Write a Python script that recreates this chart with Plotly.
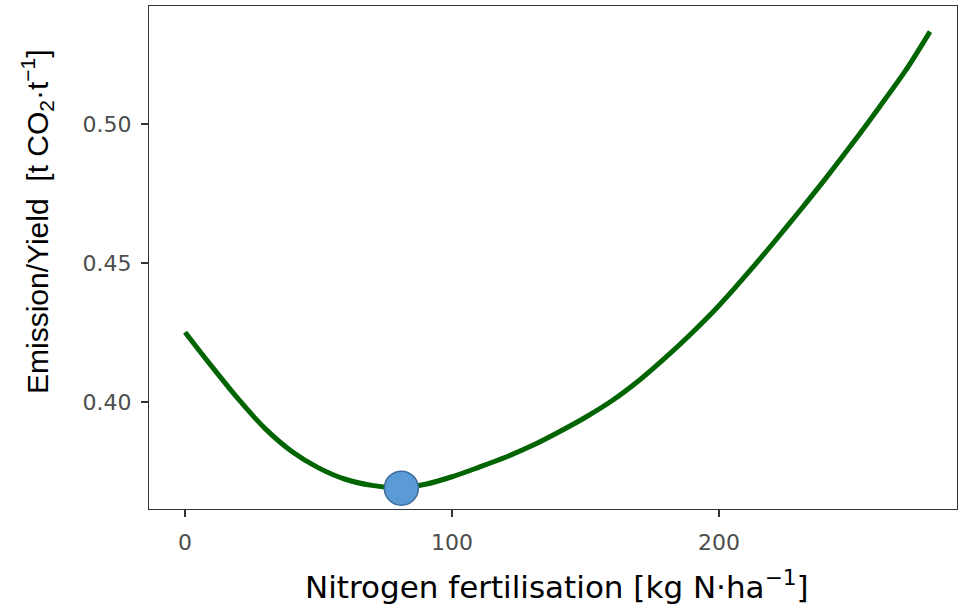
import plotly.graph_objects as go

# Data
n_rate = [0, 10, 20, 30, 40, 50, 60, 70, 80, 90, 100, 110, 120, 130, 140, 150,
          160, 170, 180, 190, 200, 210, 220, 230, 240, 250, 260, 270, 279]
emission_yield = [0.4251, 0.4128, 0.4010, 0.3904, 0.3822, 0.3763, 0.3722, 0.3700,
                  0.3691, 0.3704, 0.3731, 0.3765, 0.3801, 0.3843, 0.3892, 0.3945,
                  0.4005, 0.4077, 0.4160, 0.4250, 0.4347, 0.4455, 0.4568, 0.4685,
                  0.4805, 0.4930, 0.5060, 0.5194, 0.5332]
opt_n = [81]
opt_ey = [0.3690]

x_ticks = [0, 100, 200]
y_ticks = [0.40, 0.45, 0.50]
y_tick_text = ["0.40", "0.45", "0.50"]

x_title = "Nitrogen fertilisation [kg N·ha<sup>−1</sup>]"
y_title = "Emission/Yield  [t CO<sub>2</sub>·t<sup>−1</sup>]"

ARIAL = "Liberation Sans, Arial, sans-serif"
WIDE = "DejaVu Sans, Verdana, sans-serif"

fig = go.Figure()
fig.add_trace(go.Scatter(
    x=n_rate, y=emission_yield, mode="lines",
    line=dict(color="#006400", width=5, shape="spline", smoothing=0.8),
    showlegend=False, hoverinfo="skip"))
fig.add_trace(go.Scatter(
    x=opt_n, y=opt_ey, mode="markers",
    marker=dict(size=34, color="#5b9bd5", line=dict(color="#3d6e9e", width=1.5)),
    showlegend=False))

axis_common = dict(
    showgrid=False, zeroline=False, showline=True, mirror=True,
    linecolor="#333333", linewidth=1.3,
    ticks="outside", ticklen=7, tickwidth=1.5, tickcolor="#333333",
    tickfont=dict(family=WIDE, size=22, color="#4d4d4d"),
)

fig.update_layout(
    width=958, height=608,
    margin=dict(l=149, r=1, t=6, b=99, autoexpand=False),
    paper_bgcolor="white", plot_bgcolor="white",
    font=dict(family=ARIAL),
    xaxis=dict(range=[-13.5, 289.1], tickvals=x_ticks, ticklabelstandoff=6,
               **axis_common),
    yaxis=dict(range=[0.3615, 0.5424], tickvals=y_ticks, ticktext=y_tick_text,
               ticklabelstandoff=5, **axis_common),
    annotations=[
        dict(text=x_title, xref="paper", yref="paper", x=0.5055, y=-0.151,
             xanchor="center", yanchor="middle", showarrow=False,
             font=dict(family=WIDE, size=31, color="black")),
        dict(text=y_title, xref="paper", yref="paper", x=-0.1386, y=0.5706,
             xanchor="center", yanchor="middle", showarrow=False, textangle=-90,
             font=dict(family=ARIAL, size=30, color="black")),
    ],
)

fig.write_html("out.html")
